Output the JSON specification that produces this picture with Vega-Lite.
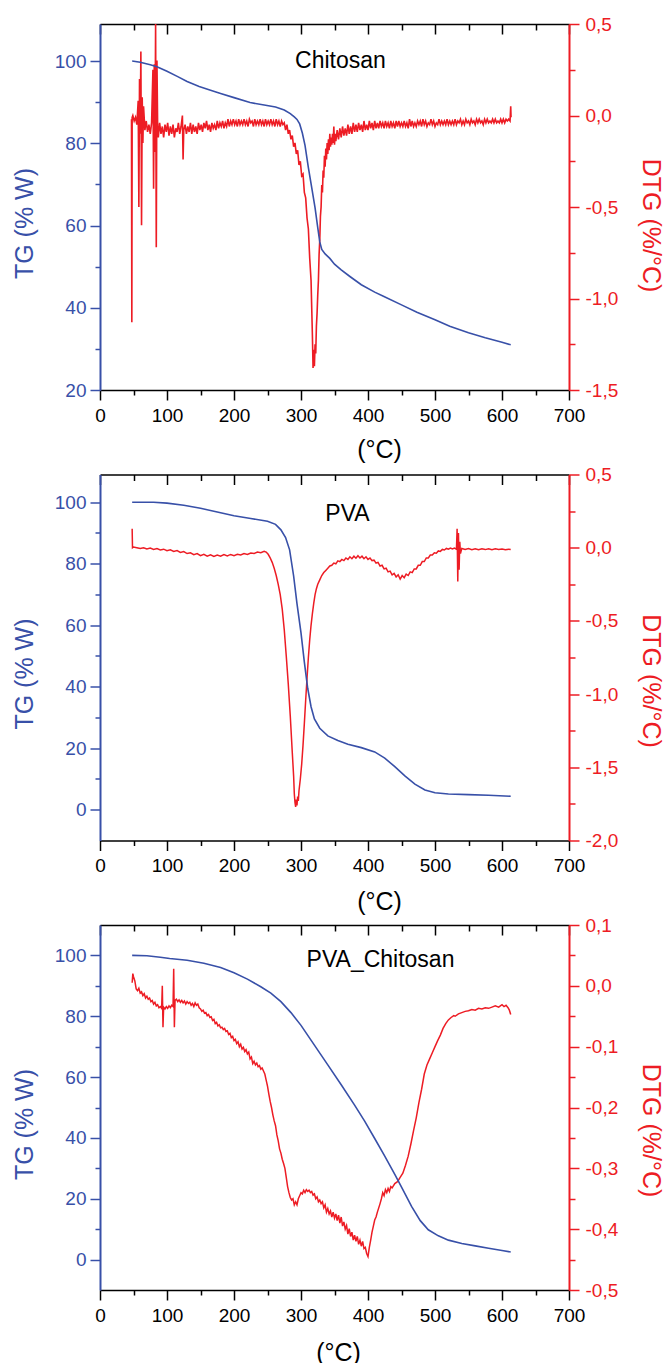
{
"$schema": "https://vega.github.io/schema/vega-lite/v6.json",
"background": "white",
"padding": {"left": 12, "top": 15, "right": 5, "bottom": 0},
"bounds": "flush",
"spacing": 84.5,
"config": {
 "view": {"stroke": null},
 "font": "Liberation Sans",
 "axis": {"grid": false, "labelFont": "Liberation Sans", "titleFont": "Liberation Sans", "labelFontSize": 19, "titleFontSize": 25, "titleFontWeight": "normal", "labelFlush": false, "labelOverlap": false, "domainWidth": 1.5, "tickWidth": 1.5},
 "title": {"font": "Liberation Sans", "fontSize": 23, "fontWeight": "normal", "color": "black", "frame": "group", "anchor": "middle", "baseline": "alphabetic"}
},
"datasets": {
 "tg1": [{"t":48,"tg":100.0},{"t":60,"tg":99.7},{"t":75,"tg":99.1},{"t":85,"tg":98.6},{"t":100,"tg":97.5},{"t":116,"tg":96.2},{"t":130,"tg":95.0},{"t":148,"tg":93.8},{"t":165,"tg":92.9},{"t":180,"tg":92.1},{"t":200,"tg":91.1},{"t":224,"tg":89.9},{"t":245,"tg":89.3},{"t":262,"tg":88.8},{"t":275,"tg":88.1},{"t":284,"tg":87.2},{"t":290,"tg":86.4},{"t":294,"tg":85.8},{"t":298,"tg":84.7},{"t":302,"tg":82.5},{"t":306,"tg":79.5},{"t":311,"tg":74.1},{"t":316,"tg":69.2},{"t":321,"tg":64.3},{"t":325,"tg":59.5},{"t":328,"tg":56.0},{"t":331,"tg":54.2},{"t":336,"tg":53.1},{"t":343,"tg":52.0},{"t":350,"tg":50.6},{"t":360,"tg":49.2},{"t":373,"tg":47.6},{"t":390,"tg":45.6},{"t":410,"tg":43.8},{"t":423,"tg":42.8},{"t":450,"tg":40.7},{"t":473,"tg":38.9},{"t":500,"tg":37.1},{"t":522,"tg":35.5},{"t":550,"tg":33.9},{"t":575,"tg":32.7},{"t":600,"tg":31.6},{"t":613,"tg":31.0}],
 "dtg1": [{"t":47,"d":-0.02},{"t":47.5,"d":-1.13},{"t":48,"d":-0.01},{"t":49,"d":0.0},{"t":51,"d":-0.03},{"t":53,"d":-0.01},{"t":55,"d":-0.05},{"t":57,"d":0.08},{"t":58,"d":-0.5},{"t":59,"d":0.2},{"t":60,"d":-0.1},{"t":61,"d":0.35},{"t":62,"d":-0.6},{"t":63,"d":0.1},{"t":64,"d":-0.15},{"t":65,"d":0.05},{"t":67,"d":-0.08},{"t":69,"d":-0.03},{"t":71,"d":-0.09},{"t":73,"d":-0.05},{"t":75,"d":-0.1},{"t":77,"d":-0.04},{"t":79,"d":0.25},{"t":80,"d":-0.4},{"t":81,"d":0.28},{"t":82,"d":-0.2},{"t":83,"d":0.5},{"t":84,"d":-0.72},{"t":85,"d":0.3},{"t":86,"d":-0.05},{"t":87,"d":-0.12},{"t":89,"d":-0.04},{"t":91,"d":-0.1},{"t":93,"d":-0.06},{"t":95,"d":-0.12},{"t":97,"d":-0.05},{"t":99,"d":-0.09},{"t":101,"d":-0.04},{"t":103,"d":-0.11},{"t":105,"d":-0.06},{"t":107,"d":-0.1},{"t":109,"d":-0.05},{"t":111,"d":-0.12},{"t":113,"d":-0.07},{"t":115,"d":-0.09},{"t":117,"d":-0.04},{"t":119,"d":-0.1},{"t":121,"d":-0.06},{"t":123,"d":0.0},{"t":124,"d":-0.24},{"t":125,"d":-0.08},{"t":127,"d":-0.05},{"t":129,"d":-0.1},{"t":131,"d":-0.06},{"t":133,"d":-0.09},{"t":135,"d":-0.04},{"t":137,"d":-0.1},{"t":139,"d":-0.05},{"t":141,"d":-0.09},{"t":143,"d":-0.06},{"t":145,"d":-0.1},{"t":147,"d":-0.04},{"t":149,"d":-0.08},{"t":151,"d":-0.05},{"t":153,"d":-0.09},{"t":155,"d":-0.04},{"t":157,"d":-0.07},{"t":159,"d":-0.03},{"t":161,"d":-0.08},{"t":163,"d":-0.05},{"t":165,"d":-0.09},{"t":167,"d":-0.04},{"t":169,"d":-0.07},{"t":171,"d":-0.05},{"t":173,"d":-0.08},{"t":175,"d":-0.03},{"t":177,"d":-0.07},{"t":179,"d":-0.04},{"t":181,"d":-0.06},{"t":183,"d":-0.03},{"t":185,"d":-0.07},{"t":187,"d":-0.04},{"t":189,"d":-0.06},{"t":191,"d":-0.02},{"t":193,"d":-0.06},{"t":195,"d":-0.03},{"t":197,"d":-0.05},{"t":199,"d":-0.02},{"t":201,"d":-0.05},{"t":203,"d":-0.03},{"t":205,"d":-0.06},{"t":207,"d":-0.02},{"t":209,"d":-0.05},{"t":211,"d":-0.03},{"t":213,"d":-0.05},{"t":215,"d":-0.02},{"t":217,"d":-0.05},{"t":219,"d":-0.03},{"t":221,"d":-0.06},{"t":223,"d":-0.02},{"t":225,"d":-0.04},{"t":227,"d":-0.03},{"t":229,"d":-0.06},{"t":231,"d":-0.02},{"t":233,"d":-0.05},{"t":235,"d":-0.03},{"t":237,"d":-0.05},{"t":239,"d":-0.02},{"t":241,"d":-0.05},{"t":243,"d":-0.03},{"t":245,"d":-0.06},{"t":247,"d":-0.02},{"t":249,"d":-0.05},{"t":251,"d":-0.03},{"t":253,"d":-0.05},{"t":255,"d":-0.02},{"t":257,"d":-0.05},{"t":259,"d":-0.03},{"t":261,"d":-0.06},{"t":263,"d":-0.02},{"t":265,"d":-0.05},{"t":267,"d":-0.03},{"t":269,"d":-0.06},{"t":271,"d":-0.03},{"t":273,"d":-0.05},{"t":275,"d":-0.04},{"t":277,"d":-0.08},{"t":279,"d":-0.05},{"t":281,"d":-0.1},{"t":283,"d":-0.08},{"t":285,"d":-0.13},{"t":287,"d":-0.11},{"t":289,"d":-0.17},{"t":291,"d":-0.15},{"t":293,"d":-0.21},{"t":295,"d":-0.19},{"t":297,"d":-0.27},{"t":299,"d":-0.25},{"t":301,"d":-0.33},{"t":303,"d":-0.32},{"t":305,"d":-0.42},{"t":307,"d":-0.45},{"t":309,"d":-0.56},{"t":311,"d":-0.62},{"t":313,"d":-0.78},{"t":315,"d":-0.9},{"t":316,"d":-1.05},{"t":317,"d":-1.2},{"t":318,"d":-1.38},{"t":319,"d":-1.28},{"t":320,"d":-1.37},{"t":321,"d":-1.25},{"t":322,"d":-1.3},{"t":323,"d":-1.15},{"t":324,"d":-1.08},{"t":325,"d":-0.98},{"t":326,"d":-0.9},{"t":327,"d":-0.76},{"t":328,"d":-0.68},{"t":329,"d":-0.55},{"t":330,"d":-0.5},{"t":331,"d":-0.38},{"t":332,"d":-0.42},{"t":333,"d":-0.3},{"t":334,"d":-0.34},{"t":335,"d":-0.22},{"t":336,"d":-0.28},{"t":337,"d":-0.18},{"t":338,"d":-0.24},{"t":339,"d":-0.15},{"t":340,"d":-0.21},{"t":341,"d":-0.13},{"t":342,"d":-0.19},{"t":343,"d":-0.1},{"t":344,"d":-0.17},{"t":345,"d":-0.12},{"t":346,"d":-0.16},{"t":347,"d":-0.1},{"t":348,"d":-0.15},{"t":349,"d":-0.06},{"t":350,"d":-0.16},{"t":351,"d":-0.1},{"t":352,"d":-0.14},{"t":354,"d":-0.08},{"t":356,"d":-0.13},{"t":358,"d":-0.07},{"t":360,"d":-0.12},{"t":362,"d":-0.06},{"t":364,"d":-0.11},{"t":366,"d":-0.07},{"t":368,"d":-0.11},{"t":370,"d":-0.05},{"t":372,"d":-0.1},{"t":374,"d":-0.06},{"t":376,"d":-0.1},{"t":378,"d":-0.04},{"t":380,"d":-0.09},{"t":382,"d":-0.05},{"t":384,"d":-0.09},{"t":386,"d":-0.04},{"t":388,"d":-0.08},{"t":390,"d":-0.05},{"t":392,"d":-0.09},{"t":394,"d":-0.03},{"t":396,"d":-0.08},{"t":398,"d":-0.05},{"t":400,"d":-0.08},{"t":402,"d":-0.03},{"t":404,"d":-0.07},{"t":406,"d":-0.04},{"t":408,"d":-0.08},{"t":410,"d":-0.03},{"t":412,"d":-0.07},{"t":414,"d":-0.04},{"t":416,"d":-0.07},{"t":418,"d":-0.03},{"t":420,"d":-0.06},{"t":422,"d":-0.04},{"t":424,"d":-0.07},{"t":426,"d":-0.03},{"t":428,"d":-0.06},{"t":430,"d":-0.04},{"t":432,"d":-0.07},{"t":434,"d":-0.03},{"t":436,"d":-0.06},{"t":438,"d":-0.04},{"t":440,"d":-0.07},{"t":442,"d":-0.03},{"t":444,"d":-0.06},{"t":446,"d":-0.03},{"t":448,"d":-0.06},{"t":450,"d":-0.04},{"t":452,"d":-0.06},{"t":454,"d":-0.03},{"t":456,"d":-0.06},{"t":458,"d":-0.04},{"t":460,"d":-0.07},{"t":462,"d":-0.02},{"t":464,"d":-0.06},{"t":466,"d":-0.03},{"t":468,"d":-0.06},{"t":470,"d":-0.04},{"t":472,"d":-0.06},{"t":474,"d":-0.03},{"t":476,"d":-0.05},{"t":478,"d":-0.03},{"t":480,"d":-0.06},{"t":482,"d":-0.02},{"t":484,"d":-0.05},{"t":486,"d":-0.03},{"t":488,"d":-0.06},{"t":490,"d":-0.04},{"t":492,"d":-0.05},{"t":494,"d":-0.02},{"t":496,"d":-0.05},{"t":498,"d":-0.03},{"t":500,"d":-0.06},{"t":502,"d":-0.04},{"t":504,"d":-0.05},{"t":506,"d":-0.02},{"t":508,"d":-0.05},{"t":510,"d":-0.03},{"t":512,"d":-0.05},{"t":514,"d":-0.03},{"t":516,"d":-0.05},{"t":518,"d":-0.02},{"t":520,"d":-0.05},{"t":522,"d":-0.03},{"t":524,"d":-0.05},{"t":526,"d":-0.03},{"t":528,"d":-0.05},{"t":530,"d":-0.02},{"t":532,"d":-0.05},{"t":534,"d":-0.03},{"t":536,"d":-0.04},{"t":538,"d":-0.02},{"t":540,"d":-0.05},{"t":542,"d":-0.03},{"t":544,"d":-0.05},{"t":546,"d":-0.02},{"t":548,"d":-0.04},{"t":550,"d":-0.03},{"t":552,"d":-0.05},{"t":554,"d":-0.02},{"t":556,"d":-0.04},{"t":558,"d":-0.03},{"t":560,"d":-0.05},{"t":562,"d":-0.02},{"t":564,"d":-0.04},{"t":566,"d":-0.02},{"t":568,"d":-0.04},{"t":570,"d":-0.03},{"t":572,"d":-0.05},{"t":574,"d":-0.02},{"t":576,"d":-0.04},{"t":578,"d":-0.02},{"t":580,"d":-0.04},{"t":582,"d":-0.03},{"t":584,"d":-0.04},{"t":586,"d":-0.02},{"t":588,"d":-0.04},{"t":590,"d":-0.02},{"t":592,"d":-0.04},{"t":594,"d":-0.03},{"t":596,"d":-0.04},{"t":598,"d":-0.02},{"t":600,"d":-0.04},{"t":602,"d":-0.02},{"t":604,"d":-0.04},{"t":606,"d":-0.02},{"t":608,"d":-0.03},{"t":610,"d":-0.02},{"t":612,"d":-0.03},{"t":613,"d":0.05},{"t":613.5,"d":-0.01}],
 "tg2": [{"t":48,"tg":100.0},{"t":80,"tg":100.0},{"t":100,"tg":99.7},{"t":125,"tg":99.0},{"t":150,"tg":98.0},{"t":175,"tg":96.8},{"t":200,"tg":95.6},{"t":225,"tg":94.7},{"t":250,"tg":93.8},{"t":262,"tg":92.8},{"t":270,"tg":91.0},{"t":277,"tg":88.5},{"t":283,"tg":84.5},{"t":289,"tg":76.0},{"t":294,"tg":67.0},{"t":300,"tg":57.5},{"t":305,"tg":48.0},{"t":310,"tg":39.5},{"t":315,"tg":33.5},{"t":320,"tg":29.5},{"t":328,"tg":26.5},{"t":340,"tg":24.0},{"t":355,"tg":22.5},{"t":370,"tg":21.3},{"t":390,"tg":20.2},{"t":410,"tg":18.8},{"t":425,"tg":16.8},{"t":440,"tg":14.0},{"t":455,"tg":11.0},{"t":470,"tg":8.3},{"t":485,"tg":6.4},{"t":500,"tg":5.5},{"t":520,"tg":5.1},{"t":550,"tg":4.9},{"t":580,"tg":4.7},{"t":613,"tg":4.4}],
 "dtg2": [{"t":48,"d":0.13},{"t":48.5,"d":0.0},{"t":50,"d":0.005},{"t":55,"d":0.0},{"t":60,"d":-0.005},{"t":65,"d":0.0},{"t":70,"d":-0.008},{"t":75,"d":-0.003},{"t":80,"d":-0.012},{"t":85,"d":-0.006},{"t":90,"d":-0.015},{"t":95,"d":-0.01},{"t":100,"d":-0.02},{"t":105,"d":-0.014},{"t":110,"d":-0.025},{"t":115,"d":-0.02},{"t":120,"d":-0.032},{"t":125,"d":-0.026},{"t":130,"d":-0.04},{"t":135,"d":-0.035},{"t":140,"d":-0.048},{"t":145,"d":-0.04},{"t":150,"d":-0.055},{"t":155,"d":-0.045},{"t":160,"d":-0.058},{"t":165,"d":-0.048},{"t":170,"d":-0.06},{"t":175,"d":-0.05},{"t":180,"d":-0.058},{"t":185,"d":-0.047},{"t":190,"d":-0.056},{"t":195,"d":-0.046},{"t":200,"d":-0.054},{"t":205,"d":-0.045},{"t":210,"d":-0.05},{"t":215,"d":-0.04},{"t":220,"d":-0.046},{"t":225,"d":-0.036},{"t":230,"d":-0.04},{"t":235,"d":-0.03},{"t":240,"d":-0.034},{"t":245,"d":-0.024},{"t":248,"d":-0.03},{"t":251,"d":-0.045},{"t":254,"d":-0.07},{"t":257,"d":-0.1},{"t":260,"d":-0.14},{"t":263,"d":-0.19},{"t":266,"d":-0.25},{"t":269,"d":-0.32},{"t":272,"d":-0.42},{"t":275,"d":-0.56},{"t":278,"d":-0.74},{"t":281,"d":-0.93},{"t":284,"d":-1.15},{"t":287,"d":-1.4},{"t":289,"d":-1.56},{"t":290,"d":-1.68},{"t":291,"d":-1.74},{"t":292,"d":-1.77},{"t":293,"d":-1.72},{"t":294,"d":-1.76},{"t":295,"d":-1.7},{"t":296,"d":-1.73},{"t":297,"d":-1.66},{"t":299,"d":-1.58},{"t":301,"d":-1.48},{"t":303,"d":-1.35},{"t":305,"d":-1.2},{"t":307,"d":-1.04},{"t":309,"d":-0.89},{"t":311,"d":-0.75},{"t":313,"d":-0.63},{"t":315,"d":-0.53},{"t":317,"d":-0.45},{"t":319,"d":-0.38},{"t":321,"d":-0.32},{"t":323,"d":-0.28},{"t":325,"d":-0.25},{"t":328,"d":-0.22},{"t":331,"d":-0.19},{"t":334,"d":-0.17},{"t":337,"d":-0.155},{"t":340,"d":-0.14},{"t":343,"d":-0.125},{"t":346,"d":-0.12},{"t":349,"d":-0.105},{"t":352,"d":-0.11},{"t":355,"d":-0.09},{"t":358,"d":-0.095},{"t":361,"d":-0.08},{"t":364,"d":-0.088},{"t":367,"d":-0.07},{"t":370,"d":-0.08},{"t":373,"d":-0.062},{"t":376,"d":-0.075},{"t":379,"d":-0.058},{"t":382,"d":-0.072},{"t":385,"d":-0.055},{"t":388,"d":-0.07},{"t":391,"d":-0.058},{"t":394,"d":-0.075},{"t":397,"d":-0.062},{"t":400,"d":-0.08},{"t":403,"d":-0.07},{"t":406,"d":-0.088},{"t":409,"d":-0.085},{"t":412,"d":-0.105},{"t":415,"d":-0.1},{"t":418,"d":-0.125},{"t":421,"d":-0.12},{"t":424,"d":-0.145},{"t":427,"d":-0.14},{"t":430,"d":-0.165},{"t":433,"d":-0.16},{"t":436,"d":-0.185},{"t":439,"d":-0.175},{"t":442,"d":-0.2},{"t":445,"d":-0.185},{"t":448,"d":-0.215},{"t":451,"d":-0.19},{"t":454,"d":-0.205},{"t":457,"d":-0.18},{"t":460,"d":-0.19},{"t":463,"d":-0.165},{"t":466,"d":-0.17},{"t":469,"d":-0.145},{"t":472,"d":-0.145},{"t":475,"d":-0.12},{"t":478,"d":-0.12},{"t":481,"d":-0.095},{"t":484,"d":-0.095},{"t":487,"d":-0.07},{"t":490,"d":-0.07},{"t":493,"d":-0.05},{"t":496,"d":-0.05},{"t":499,"d":-0.035},{"t":502,"d":-0.038},{"t":505,"d":-0.022},{"t":508,"d":-0.025},{"t":511,"d":-0.012},{"t":514,"d":-0.016},{"t":517,"d":-0.005},{"t":520,"d":-0.01},{"t":523,"d":-0.002},{"t":526,"d":-0.008},{"t":529,"d":-0.002},{"t":532,"d":-0.01},{"t":533,"d":0.13},{"t":534,"d":-0.23},{"t":535,"d":0.1},{"t":536,"d":-0.15},{"t":537,"d":0.04},{"t":538,"d":-0.04},{"t":540,"d":-0.005},{"t":545,"d":-0.012},{"t":550,"d":-0.006},{"t":555,"d":-0.013},{"t":560,"d":-0.007},{"t":565,"d":-0.014},{"t":570,"d":-0.008},{"t":575,"d":-0.013},{"t":580,"d":-0.007},{"t":585,"d":-0.014},{"t":590,"d":-0.008},{"t":595,"d":-0.013},{"t":600,"d":-0.009},{"t":605,"d":-0.014},{"t":610,"d":-0.01},{"t":613,"d":-0.012}],
 "tg3": [{"t":48,"tg":100.0},{"t":70,"tg":99.9},{"t":90,"tg":99.4},{"t":104,"tg":99.0},{"t":130,"tg":98.4},{"t":155,"tg":97.4},{"t":180,"tg":96.0},{"t":200,"tg":94.3},{"t":220,"tg":92.2},{"t":240,"tg":89.7},{"t":255,"tg":87.6},{"t":270,"tg":84.8},{"t":285,"tg":81.2},{"t":300,"tg":77.0},{"t":320,"tg":70.5},{"t":340,"tg":64.0},{"t":360,"tg":57.5},{"t":380,"tg":50.8},{"t":395,"tg":45.5},{"t":410,"tg":39.8},{"t":425,"tg":34.0},{"t":440,"tg":28.0},{"t":452,"tg":23.0},{"t":465,"tg":17.5},{"t":478,"tg":12.8},{"t":490,"tg":9.8},{"t":505,"tg":7.8},{"t":520,"tg":6.4},{"t":540,"tg":5.3},{"t":560,"tg":4.5},{"t":580,"tg":3.7},{"t":600,"tg":3.0},{"t":613,"tg":2.5}],
 "dtg3": [{"t":48,"d":0.005},{"t":49,"d":0.02},{"t":50,"d":0.015},{"t":52,"d":0.008},{"t":54,"d":-0.005},{"t":56,"d":-0.008},{"t":58,"d":-0.004},{"t":60,"d":-0.012},{"t":62,"d":-0.01},{"t":64,"d":-0.016},{"t":66,"d":-0.013},{"t":68,"d":-0.02},{"t":70,"d":-0.017},{"t":72,"d":-0.022},{"t":74,"d":-0.02},{"t":76,"d":-0.026},{"t":78,"d":-0.024},{"t":80,"d":-0.03},{"t":82,"d":-0.027},{"t":84,"d":-0.033},{"t":86,"d":-0.031},{"t":88,"d":-0.036},{"t":90,"d":-0.034},{"t":92,"d":-0.037},{"t":93,"d":0.0},{"t":94,"d":-0.068},{"t":95,"d":-0.035},{"t":97,"d":-0.038},{"t":99,"d":-0.034},{"t":101,"d":-0.037},{"t":103,"d":-0.033},{"t":105,"d":-0.036},{"t":107,"d":-0.032},{"t":109,"d":-0.034},{"t":110,"d":0.028},{"t":111,"d":-0.068},{"t":112,"d":-0.024},{"t":114,"d":-0.022},{"t":116,"d":-0.026},{"t":118,"d":-0.023},{"t":120,"d":-0.027},{"t":122,"d":-0.024},{"t":124,"d":-0.028},{"t":126,"d":-0.025},{"t":128,"d":-0.03},{"t":130,"d":-0.026},{"t":132,"d":-0.029},{"t":134,"d":-0.027},{"t":136,"d":-0.032},{"t":138,"d":-0.029},{"t":140,"d":-0.034},{"t":142,"d":-0.028},{"t":144,"d":-0.032},{"t":146,"d":-0.03},{"t":148,"d":-0.036},{"t":150,"d":-0.038},{"t":152,"d":-0.042},{"t":154,"d":-0.04},{"t":156,"d":-0.045},{"t":158,"d":-0.044},{"t":160,"d":-0.049},{"t":162,"d":-0.047},{"t":164,"d":-0.052},{"t":166,"d":-0.051},{"t":168,"d":-0.057},{"t":170,"d":-0.055},{"t":172,"d":-0.062},{"t":174,"d":-0.06},{"t":176,"d":-0.066},{"t":178,"d":-0.064},{"t":180,"d":-0.069},{"t":182,"d":-0.068},{"t":184,"d":-0.072},{"t":186,"d":-0.07},{"t":188,"d":-0.075},{"t":190,"d":-0.074},{"t":192,"d":-0.08},{"t":194,"d":-0.078},{"t":196,"d":-0.085},{"t":198,"d":-0.083},{"t":200,"d":-0.09},{"t":202,"d":-0.088},{"t":204,"d":-0.095},{"t":206,"d":-0.092},{"t":208,"d":-0.1},{"t":210,"d":-0.096},{"t":212,"d":-0.104},{"t":214,"d":-0.101},{"t":216,"d":-0.108},{"t":218,"d":-0.105},{"t":220,"d":-0.112},{"t":222,"d":-0.109},{"t":224,"d":-0.12},{"t":226,"d":-0.117},{"t":228,"d":-0.128},{"t":230,"d":-0.124},{"t":232,"d":-0.13},{"t":234,"d":-0.127},{"t":236,"d":-0.133},{"t":238,"d":-0.131},{"t":240,"d":-0.137},{"t":242,"d":-0.135},{"t":244,"d":-0.14},{"t":246,"d":-0.145},{"t":248,"d":-0.155},{"t":250,"d":-0.165},{"t":252,"d":-0.178},{"t":254,"d":-0.19},{"t":256,"d":-0.2},{"t":258,"d":-0.212},{"t":260,"d":-0.222},{"t":262,"d":-0.23},{"t":264,"d":-0.245},{"t":266,"d":-0.255},{"t":268,"d":-0.268},{"t":270,"d":-0.275},{"t":272,"d":-0.285},{"t":274,"d":-0.292},{"t":276,"d":-0.3},{"t":278,"d":-0.315},{"t":280,"d":-0.33},{"t":282,"d":-0.34},{"t":284,"d":-0.348},{"t":286,"d":-0.352},{"t":288,"d":-0.35},{"t":290,"d":-0.36},{"t":292,"d":-0.355},{"t":294,"d":-0.36},{"t":296,"d":-0.35},{"t":298,"d":-0.345},{"t":300,"d":-0.34},{"t":302,"d":-0.342},{"t":304,"d":-0.336},{"t":306,"d":-0.34},{"t":308,"d":-0.335},{"t":310,"d":-0.338},{"t":312,"d":-0.336},{"t":314,"d":-0.34},{"t":316,"d":-0.338},{"t":318,"d":-0.344},{"t":320,"d":-0.342},{"t":322,"d":-0.35},{"t":324,"d":-0.347},{"t":326,"d":-0.355},{"t":328,"d":-0.352},{"t":330,"d":-0.358},{"t":332,"d":-0.355},{"t":334,"d":-0.365},{"t":336,"d":-0.36},{"t":338,"d":-0.372},{"t":340,"d":-0.366},{"t":342,"d":-0.375},{"t":344,"d":-0.37},{"t":346,"d":-0.38},{"t":348,"d":-0.372},{"t":350,"d":-0.382},{"t":352,"d":-0.375},{"t":354,"d":-0.386},{"t":356,"d":-0.377},{"t":358,"d":-0.39},{"t":360,"d":-0.38},{"t":362,"d":-0.395},{"t":364,"d":-0.388},{"t":366,"d":-0.4},{"t":368,"d":-0.394},{"t":370,"d":-0.408},{"t":372,"d":-0.399},{"t":374,"d":-0.412},{"t":376,"d":-0.405},{"t":378,"d":-0.418},{"t":380,"d":-0.41},{"t":382,"d":-0.42},{"t":384,"d":-0.412},{"t":386,"d":-0.425},{"t":388,"d":-0.418},{"t":390,"d":-0.428},{"t":392,"d":-0.42},{"t":394,"d":-0.432},{"t":396,"d":-0.43},{"t":398,"d":-0.44},{"t":400,"d":-0.445},{"t":402,"d":-0.43},{"t":404,"d":-0.418},{"t":406,"d":-0.405},{"t":408,"d":-0.395},{"t":410,"d":-0.385},{"t":412,"d":-0.38},{"t":414,"d":-0.372},{"t":416,"d":-0.365},{"t":418,"d":-0.358},{"t":420,"d":-0.35},{"t":422,"d":-0.34},{"t":424,"d":-0.345},{"t":426,"d":-0.335},{"t":428,"d":-0.34},{"t":430,"d":-0.333},{"t":432,"d":-0.338},{"t":434,"d":-0.33},{"t":436,"d":-0.332},{"t":440,"d":-0.325},{"t":444,"d":-0.322},{"t":448,"d":-0.315},{"t":452,"d":-0.308},{"t":456,"d":-0.295},{"t":460,"d":-0.28},{"t":464,"d":-0.26},{"t":468,"d":-0.238},{"t":472,"d":-0.217},{"t":476,"d":-0.192},{"t":480,"d":-0.17},{"t":484,"d":-0.145},{"t":488,"d":-0.13},{"t":492,"d":-0.12},{"t":496,"d":-0.11},{"t":500,"d":-0.1},{"t":504,"d":-0.09},{"t":508,"d":-0.081},{"t":512,"d":-0.07},{"t":516,"d":-0.062},{"t":520,"d":-0.056},{"t":524,"d":-0.052},{"t":528,"d":-0.049},{"t":530,"d":-0.05},{"t":535,"d":-0.046},{"t":540,"d":-0.044},{"t":545,"d":-0.042},{"t":550,"d":-0.041},{"t":555,"d":-0.039},{"t":560,"d":-0.04},{"t":565,"d":-0.037},{"t":570,"d":-0.038},{"t":575,"d":-0.036},{"t":580,"d":-0.037},{"t":585,"d":-0.035},{"t":590,"d":-0.033},{"t":595,"d":-0.035},{"t":600,"d":-0.031},{"t":603,"d":-0.034},{"t":606,"d":-0.032},{"t":609,"d":-0.036},{"t":611,"d":-0.04},{"t":613,"d":-0.047}]
},
"vconcat": [
 {
  "width": 469, "height": 366,
  "title": {"text": "Chitosan", "offset": -58, "dx": 6},
  "layer": [
   {"data": {"name": "dtg1"}, "mark": {"type": "line", "color": "#ed1c24", "strokeWidth": 1.6},
    "encoding": {
     "x": {"field": "t", "type": "quantitative", "scale": {"domain": [0, 700], "nice": false}, "axis": {"orient": "top", "values": [0,50,100,150,200,250,300,350,400,450,500,550,600,650,700], "labels": false, "tickSize": {"condition": {"test": "datum.value % 100 === 0", "value": -10}, "value": -6}, "domainColor": "black", "tickColor": "black", "title": null}},
     "y": {"field": "d", "type": "quantitative", "scale": {"domain": [-1.5, 0.5], "nice": false, "zero": false}, "axis": {"orient": "right", "values": [-1.5,-1.25,-1,-0.75,-0.5,-0.25,0,0.25,0.5], "labelExpr": "abs(round(datum.value*4)) % 2 === 0 ? (datum.value < -0.001 ? '-' : '') + replace(format(abs(datum.value), '.1f'), '.', ',') : ''", "tickSize": {"condition": {"test": "abs(round(datum.value*4)) % 2 === 0", "value": 10}, "value": 6}, "labelPadding": 6, "domainColor": "#ed1c24", "tickColor": "#ed1c24", "labelColor": "#ed1c24", "domainWidth": 2, "title": "DTG (%/°C)", "titleColor": "#ed1c24", "titleAngle": 90, "titleX": 81, "titleY": 201, "titleBaseline": "middle", "titleAlign": "center"}}
    }},
   {"data": {"name": "tg1"}, "mark": {"type": "line", "color": "#3850a8", "strokeWidth": 1.6},
    "encoding": {
     "x": {"field": "t", "type": "quantitative", "scale": {"domain": [0, 700], "nice": false}, "axis": {"orient": "bottom", "values": [0,50,100,150,200,250,300,350,400,450,500,550,600,650,700], "labelExpr": "datum.value % 100 === 0 ? datum.label : ''", "tickSize": {"condition": {"test": "datum.value % 100 === 0", "value": 10}, "value": 5}, "labelPadding": 6, "domainColor": "black", "tickColor": "black", "labelColor": "black", "title": "(°C)", "titleColor": "black", "titleX": 279, "titleY": 59, "titleBaseline": "middle", "titleAlign": "center"}},
     "y": {"field": "tg", "type": "quantitative", "scale": {"domain": [20, 109], "nice": false, "zero": false}, "axis": {"orient": "left", "values": [20,30,40,50,60,70,80,90,100], "labelExpr": "datum.value % 20 === 0 ? datum.label : ''", "tickSize": {"condition": {"test": "datum.value % 20 === 0", "value": 10}, "value": 5}, "labelPadding": 4, "domainColor": "#3850a8", "tickColor": "#3850a8", "labelColor": "#3850a8", "domainWidth": 2, "title": "TG (% W)", "titleColor": "#3850a8", "titleAngle": -90, "titleX": -76, "titleY": 199, "titleBaseline": "middle", "titleAlign": "center"}}
    }}
  ],
  "resolve": {"scale": {"x": "independent", "y": "independent"}, "axis": {"x": "independent", "y": "independent"}}
 },
 {
  "width": 469, "height": 366,
  "title": {"text": "PVA", "offset": -60, "dx": 13},
  "layer": [
   {"data": {"name": "dtg2"}, "mark": {"type": "line", "color": "#ed1c24", "strokeWidth": 1.5},
    "encoding": {
     "x": {"field": "t", "type": "quantitative", "scale": {"domain": [0, 700], "nice": false}, "axis": {"orient": "top", "values": [0,50,100,150,200,250,300,350,400,450,500,550,600,650,700], "labels": false, "tickSize": {"condition": {"test": "datum.value % 100 === 0", "value": -10}, "value": -6}, "domainColor": "black", "tickColor": "black", "title": null}},
     "y": {"field": "d", "type": "quantitative", "scale": {"domain": [-2, 0.5], "nice": false, "zero": false}, "axis": {"orient": "right", "values": [-2,-1.75,-1.5,-1.25,-1,-0.75,-0.5,-0.25,0,0.25,0.5], "labelExpr": "abs(round(datum.value*4)) % 2 === 0 ? (datum.value < -0.001 ? '-' : '') + replace(format(abs(datum.value), '.1f'), '.', ',') : ''", "tickSize": {"condition": {"test": "abs(round(datum.value*4)) % 2 === 0", "value": 10}, "value": 6}, "labelPadding": 6, "domainColor": "#ed1c24", "tickColor": "#ed1c24", "labelColor": "#ed1c24", "domainWidth": 2, "title": "DTG (%/°C)", "titleColor": "#ed1c24", "titleAngle": 90, "titleX": 81, "titleY": 206, "titleBaseline": "middle", "titleAlign": "center"}}
    }},
   {"data": {"name": "tg2"}, "mark": {"type": "line", "color": "#3850a8", "strokeWidth": 1.6},
    "encoding": {
     "x": {"field": "t", "type": "quantitative", "scale": {"domain": [0, 700], "nice": false}, "axis": {"orient": "bottom", "values": [0,50,100,150,200,250,300,350,400,450,500,550,600,650,700], "labelExpr": "datum.value % 100 === 0 ? datum.label : ''", "tickSize": {"condition": {"test": "datum.value % 100 === 0", "value": 10}, "value": 5}, "labelPadding": 6, "domainColor": "black", "tickColor": "black", "labelColor": "black", "title": "(°C)", "titleColor": "black", "titleX": 279, "titleY": 61, "titleBaseline": "middle", "titleAlign": "center"}},
     "y": {"field": "tg", "type": "quantitative", "scale": {"domain": [-10, 109], "nice": false, "zero": false}, "axis": {"orient": "left", "values": [0,10,20,30,40,50,60,70,80,90,100], "labelExpr": "datum.value % 20 === 0 ? datum.label : ''", "tickSize": {"condition": {"test": "datum.value % 20 === 0", "value": 10}, "value": 5}, "labelPadding": 4, "domainColor": "#3850a8", "tickColor": "#3850a8", "labelColor": "#3850a8", "domainWidth": 2, "title": "TG (% W)", "titleColor": "#3850a8", "titleAngle": -90, "titleX": -76, "titleY": 199, "titleBaseline": "middle", "titleAlign": "center"}}
    }}
  ],
  "resolve": {"scale": {"x": "independent", "y": "independent"}, "axis": {"x": "independent", "y": "independent"}}
 },
 {
  "width": 469, "height": 365,
  "title": {"text": "PVA_Chitosan", "offset": -56, "dx": 46},
  "layer": [
   {"data": {"name": "dtg3"}, "mark": {"type": "line", "color": "#ed1c24", "strokeWidth": 1.5},
    "encoding": {
     "x": {"field": "t", "type": "quantitative", "scale": {"domain": [0, 700], "nice": false}, "axis": {"orient": "top", "values": [0,50,100,150,200,250,300,350,400,450,500,550,600,650,700], "labels": false, "tickSize": {"condition": {"test": "datum.value % 100 === 0", "value": -10}, "value": -6}, "domainColor": "black", "tickColor": "black", "title": null}},
     "y": {"field": "d", "type": "quantitative", "scale": {"domain": [-0.5, 0.1], "nice": false, "zero": false}, "axis": {"orient": "right", "values": [-0.5,-0.45,-0.4,-0.35,-0.3,-0.25,-0.2,-0.15,-0.1,-0.05,0,0.05,0.1], "labelExpr": "abs(round(datum.value*20)) % 2 === 0 ? (datum.value < -0.001 ? '-' : '') + replace(format(abs(datum.value), '.1f'), '.', ',') : ''", "tickSize": {"condition": {"test": "abs(round(datum.value*20)) % 2 === 0", "value": 10}, "value": 6}, "labelPadding": 6, "domainColor": "#ed1c24", "tickColor": "#ed1c24", "labelColor": "#ed1c24", "domainWidth": 2, "title": "DTG (%/°C)", "titleColor": "#ed1c24", "titleAngle": 90, "titleX": 81, "titleY": 205, "titleBaseline": "middle", "titleAlign": "center"}}
    }},
   {"data": {"name": "tg3"}, "mark": {"type": "line", "color": "#3850a8", "strokeWidth": 1.6},
    "encoding": {
     "x": {"field": "t", "type": "quantitative", "scale": {"domain": [0, 700], "nice": false}, "axis": {"orient": "bottom", "values": [0,50,100,150,200,250,300,350,400,450,500,550,600,650,700], "labelExpr": "datum.value % 100 === 0 ? datum.label : ''", "tickSize": {"condition": {"test": "datum.value % 100 === 0", "value": 10}, "value": 5}, "labelPadding": 6, "domainColor": "black", "tickColor": "black", "labelColor": "black", "title": "(°C)", "titleColor": "black", "titleX": 238, "titleY": 62, "titleBaseline": "middle", "titleAlign": "center"}},
     "y": {"field": "tg", "type": "quantitative", "scale": {"domain": [-10, 110], "nice": false, "zero": false}, "axis": {"orient": "left", "values": [0,10,20,30,40,50,60,70,80,90,100], "labelExpr": "datum.value % 20 === 0 ? datum.label : ''", "tickSize": {"condition": {"test": "datum.value % 20 === 0", "value": 10}, "value": 5}, "labelPadding": 4, "domainColor": "#3850a8", "tickColor": "#3850a8", "labelColor": "#3850a8", "domainWidth": 2, "title": "TG (% W)", "titleColor": "#3850a8", "titleAngle": -90, "titleX": -76, "titleY": 199, "titleBaseline": "middle", "titleAlign": "center"}}
    }}
  ],
  "resolve": {"scale": {"x": "independent", "y": "independent"}, "axis": {"x": "independent", "y": "independent"}}
 }
]
}
